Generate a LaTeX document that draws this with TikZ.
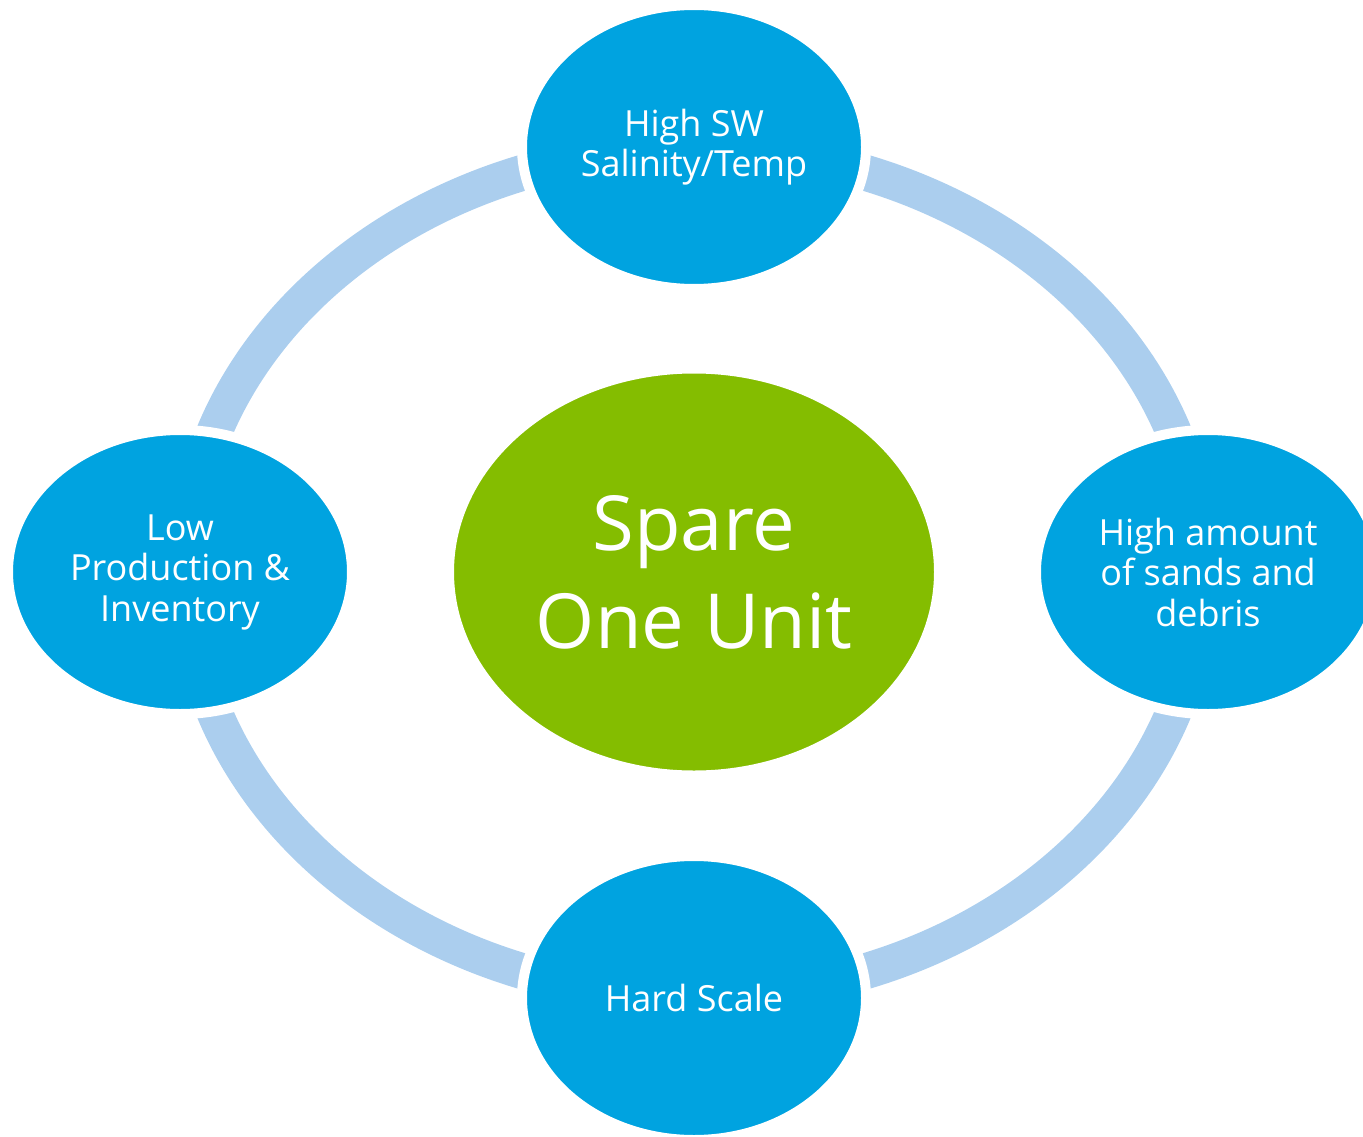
\documentclass[tikz,border=0pt]{standalone}
\usepackage{fontspec}
\setmainfont{Open Sans}
\usetikzlibrary{shapes.geometric}
\definecolor{nodeblue}{RGB}{0,163,224}
\definecolor{ringblue}{RGB}{171,206,238}
\definecolor{centergreen}{RGB}{132,189,0}
\tikzset{
  ringline/.style={draw=ringblue, line width=36pt},
  outer/.style={ellipse, fill=nodeblue, draw=white, line width=10pt,
    minimum width=344pt, minimum height=284pt, inner sep=0pt,
    text=white, align=center,
    font=\fontsize{36}{40.5}\selectfont},
  hub/.style={ellipse, fill=centergreen, draw=white, line width=4pt,
    minimum width=484pt, minimum height=401pt, inner sep=0pt,
    text=white, align=center,
    font=\fontsize{76}{98}\selectfont}
}
\begin{document}
\begin{tikzpicture}[x=1pt,y=-1pt]
  \useasboundingbox (0,0) rectangle (1363,1137);
  \clip (0,0) rectangle (1363,1137);
  \coordinate (c) at (694,572);
  \draw[ringline] (c) ellipse [x radius=508, y radius=424];
  \node[hub] (hub) at (694,572) {Spare\\One Unit};
  \node[outer] (top) at (694,147) {High SW\\Salinity/Temp};
  \node[outer] (right) at (1208,572) {High amount\\of sands and\\debris};
  \node[outer] (bottom) at (694,998) {Hard Scale};
  \node[outer] (left) at (180,572) {Low\\Production \&\\Inventory};
\end{tikzpicture}
\end{document}
